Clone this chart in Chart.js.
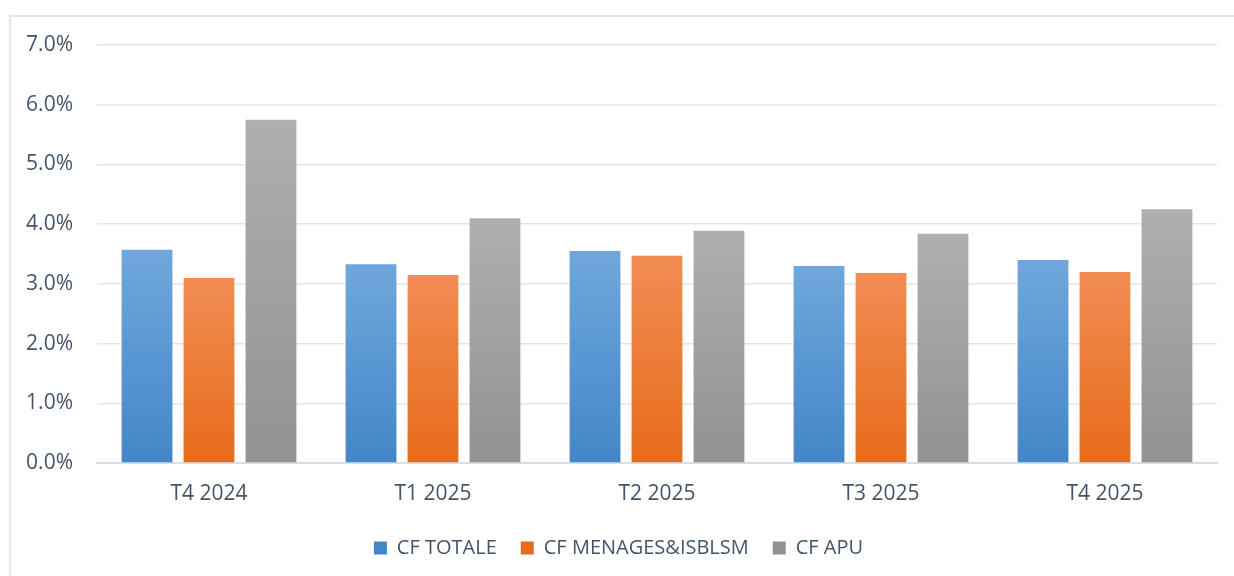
<!DOCTYPE html>
<html>
<head>
<meta charset="utf-8">
<script src="https://cdn.jsdelivr.net/npm/chart.js@4/dist/chart.umd.min.js"></script>
<style>
    html, body { margin: 0; padding: 0; background: #fff; overflow: hidden; }
    #frame { position: absolute; left: 9px; top: 15px; width: 1400px; height: 800px; border: 2px solid #e3e7ee; }
    #wrap { position: absolute; left: 0; top: 0; width: 1234px; height: 576px; }
</style>
</head>
<body>
<div id="frame"></div>
<div id="wrap"><canvas id="cfChart"></canvas></div>
<script>
const quarters = ['T4 2024', 'T1 2025', 'T2 2025', 'T3 2025', 'T4 2025'];
const cfTotale = [3.57, 3.33, 3.55, 3.30, 3.40];
const cfMenages = [3.10, 3.15, 3.47, 3.18, 3.20];
const cfApu = [5.75, 4.10, 3.89, 3.84, 4.25];
const yTicks = [0, 1, 2, 3, 4, 5, 6, 7];

const textColor = '#44546a';
const font = { family: 'Open Sans', size: 21 };

// each bar gets its own top-to-bottom gradient, like the office chart
function barGradient(top, bottom) {
    return function (context) {
        const chart = context.chart;
        if (!chart.chartArea || context.parsed == null) return bottom;
        const y = chart.scales.y;
        const y0 = y.getPixelForValue(0);
        const y1 = y.getPixelForValue(context.parsed.y);
        if (!isFinite(y0) || !isFinite(y1) || y0 === y1) return bottom;
        const g = chart.ctx.createLinearGradient(0, y1, 0, y0);
        g.addColorStop(0, top);
        g.addColorStop(1, bottom);
        return g;
    };
}

const ctx = document.getElementById('cfChart').getContext('2d');
new Chart(ctx, {
    type: 'bar',
    data: {
        labels: quarters,
        datasets: [
            { label: 'CF TOTALE', data: cfTotale, backgroundColor: barGradient('#70a7dc', '#4287c8') },
            { label: 'CF MENAGES&ISBLSM', data: cfMenages, backgroundColor: barGradient('#f28d54', '#e76b1b') },
            { label: 'CF APU', data: cfApu, backgroundColor: barGradient('#afafaf', '#929292') }
        ]
    },
    options: {
        responsive: true,
        maintainAspectRatio: false,
        animation: false,
        categoryPercentage: 0.83,
        barPercentage: 0.82,
        layout: { padding: { left: 20, right: 17, top: 45, bottom: 8 } },
        plugins: {
            tooltip: { enabled: false },
            legend: {
                position: 'bottom',
                labels: {
                    color: textColor,
                    font: { family: 'Open Sans', size: 20 },
                    boxWidth: 13,
                    boxHeight: 13,
                    padding: 24
                }
            }
        },
        scales: {
            x: {
                grid: { display: false, drawTicks: false },
                border: { color: '#d9dde4', width: 2 },
                ticks: { color: textColor, font: font, padding: 18 },
                afterFit: function (scale) { scale.height = 51; }
            },
            y: {
                min: 0,
                max: 7,
                afterBuildTicks: function (scale) {
                    scale.ticks = yTicks.map(v => ({ value: v }));
                },
                grid: { color: '#e2e5eb', lineWidth: 1.5, drawTicks: false },
                border: { display: false },
                ticks: {
                    color: textColor,
                    font: font,
                    padding: 24,
                    callback: v => v.toFixed(1) + '%'
                },
                afterFit: function (scale) { scale.width = 77; }
            }
        }
    }
});
</script>
</body>
</html>
